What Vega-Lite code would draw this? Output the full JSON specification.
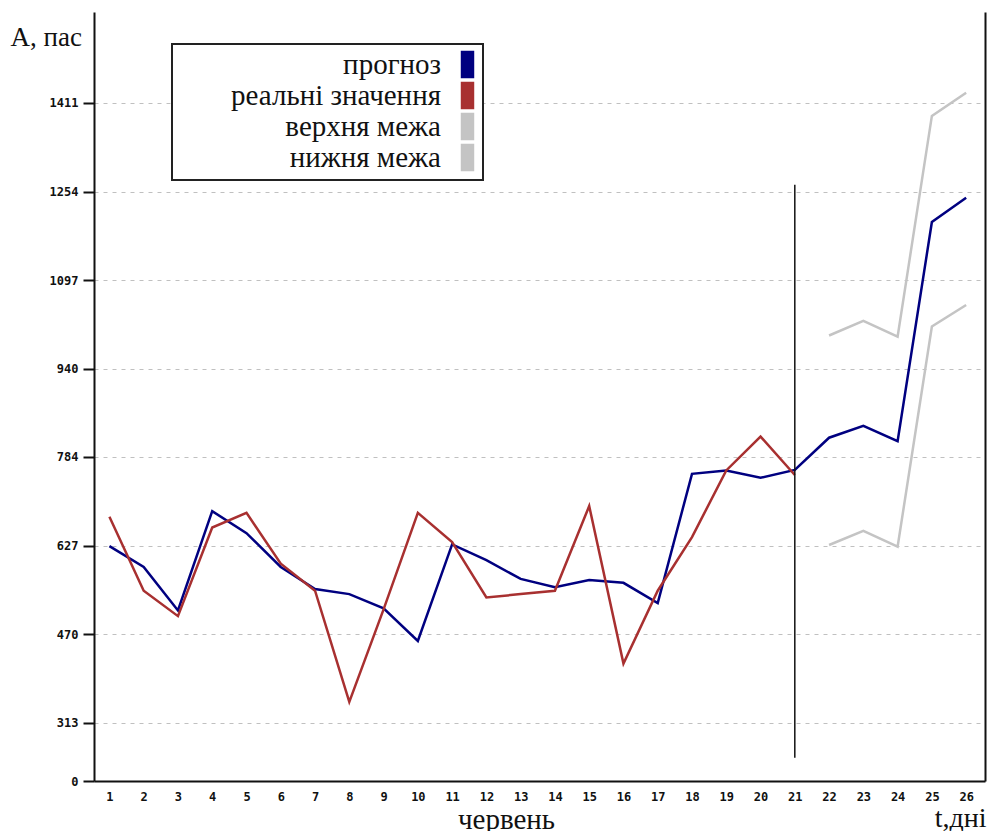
{
  "$schema": "https://vega.github.io/schema/vega-lite/v6.json",
  "autosize": "none",
  "width": 891,
  "height": 769,
  "padding": {"left": 94, "top": 12, "right": 2, "bottom": 50},
  "background": "white",
  "config": {
    "view": {"stroke": null},
    "axis": {"labelColor": "#111", "titleColor": "#111"},
    "legend": {"strokeWidth": 2}
  },
  "datasets": {
    "series": [
      {"day": 1, "series": "прогноз", "value": 626},
      {"day": 2, "series": "прогноз", "value": 589},
      {"day": 3, "series": "прогноз", "value": 512},
      {"day": 4, "series": "прогноз", "value": 688},
      {"day": 5, "series": "прогноз", "value": 649},
      {"day": 6, "series": "прогноз", "value": 589},
      {"day": 7, "series": "прогноз", "value": 550},
      {"day": 8, "series": "прогноз", "value": 541},
      {"day": 9, "series": "прогноз", "value": 516},
      {"day": 10, "series": "прогноз", "value": 458},
      {"day": 11, "series": "прогноз", "value": 629},
      {"day": 12, "series": "прогноз", "value": 601},
      {"day": 13, "series": "прогноз", "value": 568},
      {"day": 14, "series": "прогноз", "value": 553},
      {"day": 15, "series": "прогноз", "value": 566},
      {"day": 16, "series": "прогноз", "value": 561},
      {"day": 17, "series": "прогноз", "value": 525},
      {"day": 18, "series": "прогноз", "value": 754},
      {"day": 19, "series": "прогноз", "value": 760},
      {"day": 20, "series": "прогноз", "value": 747},
      {"day": 21, "series": "прогноз", "value": 761},
      {"day": 22, "series": "прогноз", "value": 818},
      {"day": 23, "series": "прогноз", "value": 839},
      {"day": 24, "series": "прогноз", "value": 812},
      {"day": 25, "series": "прогноз", "value": 1200},
      {"day": 26, "series": "прогноз", "value": 1243},
      {"day": 1, "series": "реальні значення", "value": 678},
      {"day": 2, "series": "реальні значення", "value": 547},
      {"day": 3, "series": "реальні значення", "value": 502},
      {"day": 4, "series": "реальні значення", "value": 659},
      {"day": 5, "series": "реальні значення", "value": 685},
      {"day": 6, "series": "реальні значення", "value": 595},
      {"day": 7, "series": "реальні значення", "value": 547},
      {"day": 8, "series": "реальні значення", "value": 350},
      {"day": 9, "series": "реальні значення", "value": 514},
      {"day": 10, "series": "реальні значення", "value": 685},
      {"day": 11, "series": "реальні значення", "value": 633},
      {"day": 12, "series": "реальні значення", "value": 535},
      {"day": 13, "series": "реальні значення", "value": 541},
      {"day": 14, "series": "реальні значення", "value": 547},
      {"day": 15, "series": "реальні значення", "value": 697},
      {"day": 16, "series": "реальні значення", "value": 418},
      {"day": 17, "series": "реальні значення", "value": 547},
      {"day": 18, "series": "реальні значення", "value": 642},
      {"day": 19, "series": "реальні значення", "value": 760},
      {"day": 20, "series": "реальні значення", "value": 820},
      {"day": 21, "series": "реальні значення", "value": 752},
      {"day": 22, "series": "верхня межа", "value": 999},
      {"day": 23, "series": "верхня межа", "value": 1025},
      {"day": 24, "series": "верхня межа", "value": 997},
      {"day": 25, "series": "верхня межа", "value": 1388},
      {"day": 26, "series": "верхня межа", "value": 1429},
      {"day": 22, "series": "нижня межа", "value": 628},
      {"day": 23, "series": "нижня межа", "value": 653},
      {"day": 24, "series": "нижня межа", "value": 625},
      {"day": 25, "series": "нижня межа", "value": 1015},
      {"day": 26, "series": "нижня межа", "value": 1053}
    ]
  },
  "layer": [
    {
      "data": {"name": "series"},
      "mark": {"type": "line", "strokeWidth": 2.5, "strokeJoin": "miter"},
      "encoding": {
        "x": {
          "field": "day", "type": "quantitative",
          "scale": {"domain": [0.55, 26.55], "nice": false, "zero": false},
          "axis": {
            "values": [1,2,3,4,5,6,7,8,9,10,11,12,13,14,15,16,17,18,19,20,21,22,23,24,25,26],
            "format": "d",
            "ticks": false,
            "grid": false,
            "domainColor": "#111",
            "domainWidth": 2,
            "labelFont": "DejaVu Sans Mono",
            "labelFontWeight": "bold",
            "labelFontSize": 12,
            "labelPadding": 10,
            "title": "червень",
            "titleFont": "Liberation Serif",
            "titleFontSize": 29,
            "titleFontWeight": "normal",
            "titleX": 412,
            "titleY": 47,
            "titleBaseline": "alphabetic",
            "titleAlign": "center"
          }
        },
        "y": {
          "field": "value", "type": "quantitative",
          "scale": {"domain": [210, 1572], "nice": false, "zero": false},
          "axis": {
            "values": [210, 313, 470, 627, 784, 940, 1097, 1254, 1411],
            "labelExpr": "datum.value < 250 ? '0' : datum.label",
            "format": "d",
            "tickSize": 11,
            "tickColor": "#111",
            "tickWidth": 2,
            "domainColor": "#111",
            "domainWidth": 2,
            "labelFont": "DejaVu Sans Mono",
            "labelFontWeight": "bold",
            "labelFontSize": 12,
            "labelPadding": 5,
            "grid": true,
            "gridColor": "#c0c0c0",
            "gridDash": [4, 5],
            "gridWidth": 1,
            "title": "А, пас",
            "titleFont": "Liberation Serif",
            "titleFontSize": 27,
            "titleFontWeight": "normal",
            "titleAngle": 0,
            "titleAlign": "left",
            "titleBaseline": "alphabetic",
            "titleX": -84,
            "titleY": 33
          }
        },
        "color": {
          "field": "series", "type": "nominal",
          "scale": {
            "domain": ["прогноз", "реальні значення", "верхня межа", "нижня межа"],
            "range": ["#000080", "#a83030", "#c4c4c4", "#c4c4c4"]
          },
          "legend": {
            "orient": "none",
            "legendX": 78,
            "legendY": 32,
            "title": null,
            "padding": 6,
            "rowPadding": -10,
            "fillColor": "white",
            "strokeColor": "#222",
            "symbolType": "M-0.46,-1L0.46,-1L0.46,1L-0.46,1Z",
            "symbolSize": 676,
            "symbolOffset": 275,
            "symbolStrokeColor": "#222",
            "symbolStrokeWidth": 1.5,
            "labelAlign": "right",
            "labelOffset": -41,
            "labelFont": "Liberation Serif",
            "labelFontSize": 29,
            "labelColor": "#111",
            "labelLimit": 400,
            "encode": {
              "symbols": {
                "update": {
                  "fill": {"scale": "color", "field": "value"},
                  "fillOpacity": {"value": 1},
                  "stroke": {"value": "#222"},
                  "strokeWidth": {"value": 1.5}
                }
              }
            }
          }
        },
        "detail": {"field": "series"}
      }
    },
    {
      "data": {"values": [{"day": 21, "top": 1266, "bottom": 251}]},
      "mark": {"type": "rule", "color": "#111", "strokeWidth": 1.5},
      "encoding": {
        "x": {
          "field": "day", "type": "quantitative",
          "axis": {
            "orient": "bottom",
            "labels": false, "ticks": false, "domain": false, "grid": false,
            "title": "t,дні",
            "titleFont": "Liberation Serif",
            "titleFontSize": 28,
            "titleFontWeight": "normal",
            "titleAlign": "right",
            "titleBaseline": "alphabetic",
            "titleX": 892,
            "titleY": 45
          }
        },
        "y": {
          "field": "top", "type": "quantitative",
          "axis": {
            "orient": "right",
            "labels": false, "ticks": false, "grid": false,
            "domain": true, "domainColor": "#111", "domainWidth": 2,
            "title": null
          }
        },
        "y2": {"field": "bottom"}
      }
    }
  ],
  "resolve": {"axis": {"x": "independent", "y": "independent"}}
}
